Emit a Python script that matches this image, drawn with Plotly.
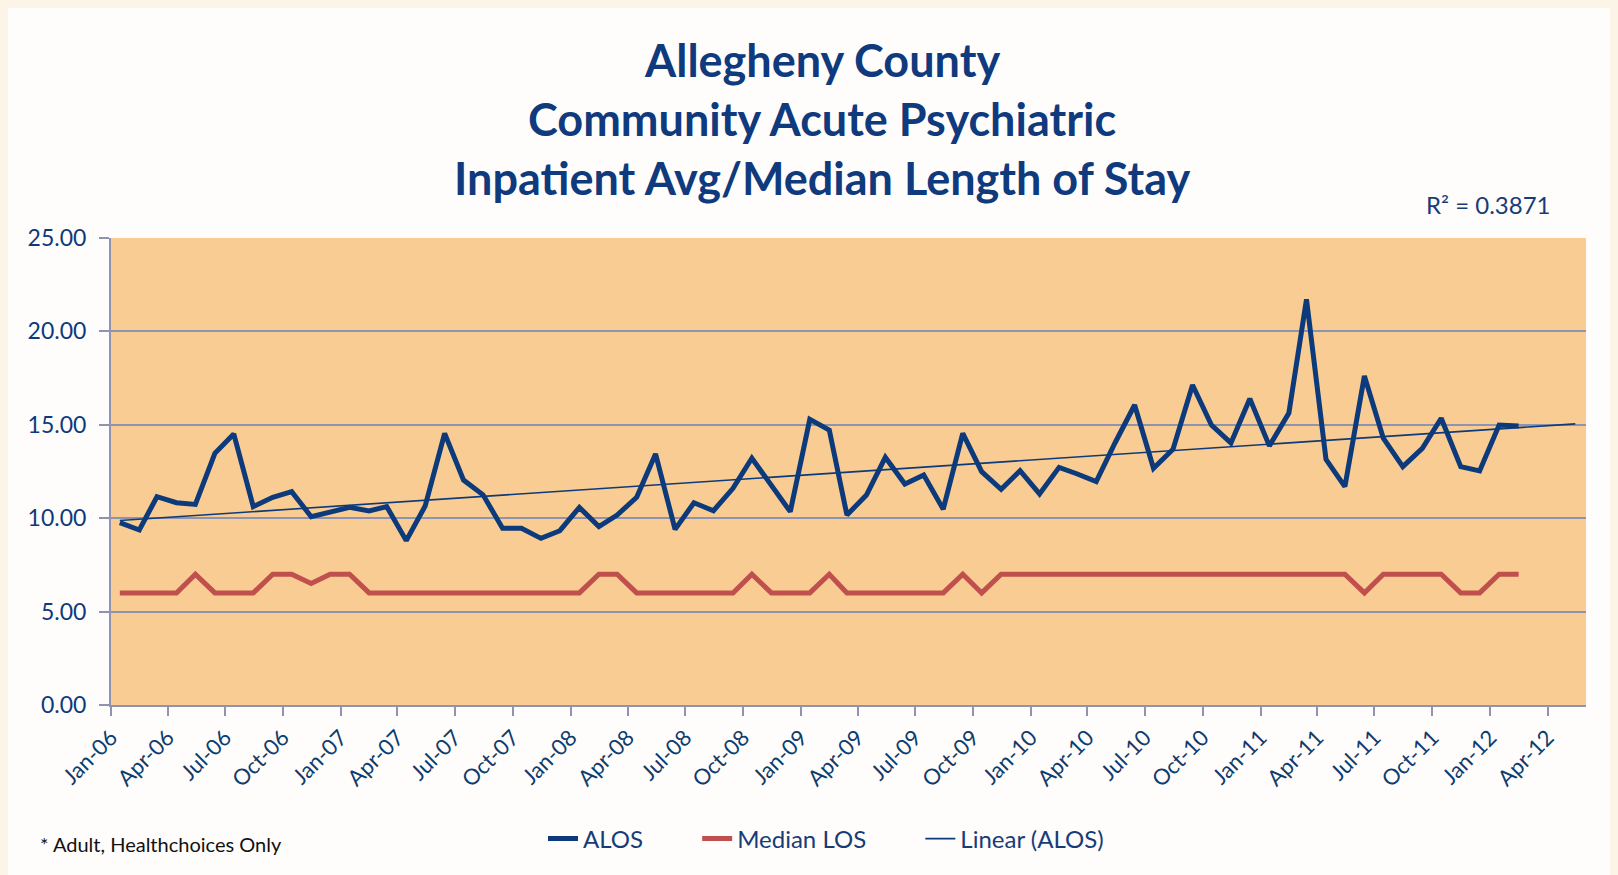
import numpy as np
import pandas as pd
import plotly.graph_objects as go

# ---- data ----
months = pd.date_range("2006-01-01", periods=74, freq="MS") + pd.Timedelta(days=14)
alos = [9.76, 9.37, 11.15, 10.83, 10.74, 13.47, 14.51, 10.62, 11.12, 11.42,
        10.08, 10.35, 10.58, 10.39, 10.62, 8.80, 10.65, 14.54, 12.04, 11.25,
        9.46, 9.46, 8.92, 9.33, 10.58, 9.55, 10.17, 11.12, 13.44, 9.40,
        10.83, 10.40, 11.60, 13.21, 11.78, 10.35, 15.29, 14.72, 10.17, 11.24,
        13.26, 11.83, 12.31, 10.48, 14.54, 12.49, 11.55, 12.54, 11.30, 12.72,
        12.38, 11.96, 14.04, 16.06, 12.67, 13.69, 17.13, 14.99, 14.03, 16.40,
        13.87, 15.63, 21.72, 13.15, 11.69, 17.61, 14.28, 12.76, 13.74, 15.35,
        12.76, 12.53, 14.99, 14.94]
median_los = [6, 6, 6, 6, 7, 6, 6, 6, 7, 7,
              6.5, 7, 7, 6, 6, 6, 6, 6, 6, 6,
              6, 6, 6, 6, 6, 7, 7, 6, 6, 6,
              6, 6, 6, 7, 6, 6, 6, 7, 6, 6,
              6, 6, 6, 6, 7, 6, 7, 7, 7, 7,
              7, 7, 7, 7, 7, 7, 7, 7, 7, 7,
              7, 7, 7, 7, 7, 6, 7, 7, 7, 7,
              6, 6, 7, 7]
series_names = ["ALOS", "Median LOS", "Linear (ALOS)"]
title_lines = ["Allegheny County", "Community Acute Psychiatric",
               "Inpatient Avg/Median Length of Stay"]
r2_label = "R² = 0.3871"
footnote = "* Adult, Healthchoices Only"
forecast_periods = 3

# linear trendline (Excel-style, forward forecast)
idx = np.arange(len(alos))
slope, intercept = np.polyfit(idx, np.array(alos), 1)
end_i = len(alos) - 1 + forecast_periods
trend_x = [months[0], months[0] + pd.DateOffset(months=int(end_i))]
trend_y = [intercept, intercept + slope * end_i]

# ---- layout geometry (page px; the page body adds an 8px offset) ----
OFF = 8
W, H = 1618 - OFF, 875 - OFF
L, R, T, B = 111, 1586, 238, 705          # plot area in page px
pw, ph = R - L, B - T
def px(x): return (x - L) / pw
def py(y): return (B - y) / ph

navy = "#0C3A7B"
text_navy = "#173C78"
grid = "#8E94B0"
font_fam = "Lato, 'Open Sans', sans-serif"
pad = "\u00a0" * 8

fig = go.Figure()
fig.add_trace(go.Scatter(x=months, y=alos, name=series_names[0] + pad, mode="lines",
                         line=dict(color=navy, width=5)))
fig.add_trace(go.Scatter(x=months, y=median_los, name=series_names[1] + pad, mode="lines",
                         line=dict(color="#C0504D", width=5)))
fig.add_trace(go.Scatter(x=trend_x, y=trend_y, name=series_names[2], mode="lines",
                         line=dict(color=navy, width=1.6)))

annotations = []
for i, t in enumerate(title_lines):
    annotations.append(dict(text="<b>%s</b>" % t, x=px(822), y=py(60 + 59 * i),
                            xref="paper", yref="paper", showarrow=False,
                            xanchor="center", yanchor="middle",
                            font=dict(family=font_fam, size=45, color="#0F3A7D")))
annotations.append(dict(text=r2_label, x=px(1553), y=py(205), xref="paper", yref="paper",
                        showarrow=False, xanchor="right", yanchor="middle",
                        font=dict(family=font_fam, size=24, color=text_navy)))
annotations.append(dict(text=footnote, x=px(38), y=py(844), xref="paper", yref="paper",
                        showarrow=False, xanchor="left", yanchor="middle",
                        font=dict(family=font_fam, size=20, color="#111111")))

fig.update_layout(
    width=W, height=H,
    margin=dict(l=L - OFF, r=1618 - R, t=T - OFF, b=875 - B),
    paper_bgcolor="#FFFDFB", plot_bgcolor="#F9CC93",
    font=dict(family=font_fam, color=text_navy),
    showlegend=True,
    legend=dict(orientation="h", x=px(826), y=py(839), xanchor="center", yanchor="middle",
                font=dict(family=font_fam, size=24, color=text_navy),
                bgcolor="rgba(0,0,0,0)", tracegroupgap=0),
    annotations=annotations,
)
fig.update_xaxes(type="date", range=["2006-01-01", "2012-06-01"],
                 tick0="2006-01-01", dtick="M3", tickformat="%b-%y", tickangle=-45,
                 showgrid=False, showline=True, linecolor=grid, linewidth=2,
                 ticks="outside", ticklen=9, tickwidth=1.5, tickcolor=grid,
                 tickfont=dict(family=font_fam, size=22, color="#0D3C6E"), zeroline=False)
fig.update_yaxes(range=[0, 25], dtick=5, tickformat=".2f",
                 showgrid=True, gridcolor=grid, gridwidth=1.5,
                 showline=True, linecolor=grid, linewidth=2,
                 ticks="outside", ticklen=10, tickwidth=1.5, tickcolor=grid,
                 ticklabelstandoff=8,
                 tickfont=dict(family=font_fam, size=23, color=navy), zeroline=False)

fig.write_html("out.html", post_script="document.body.style.background='#FDF4E8';")
